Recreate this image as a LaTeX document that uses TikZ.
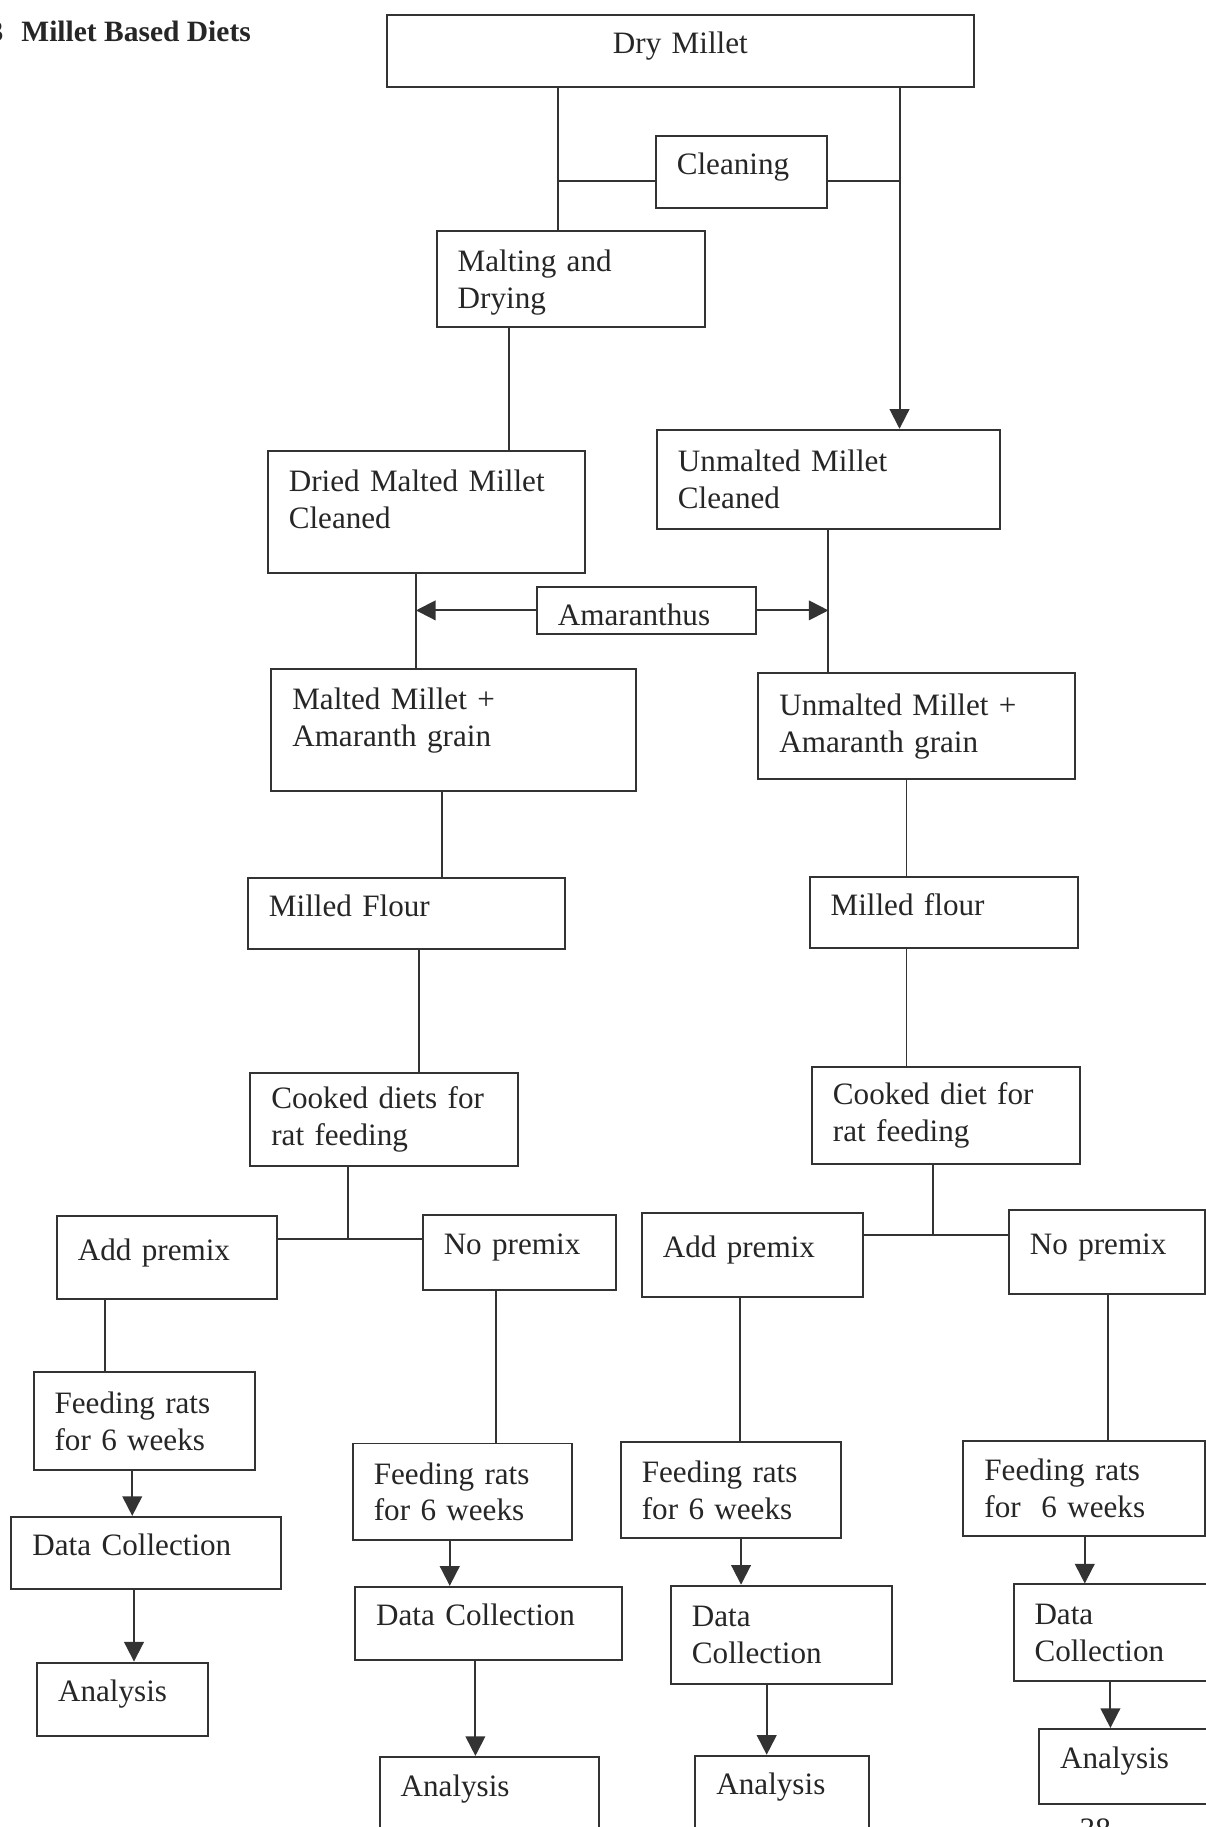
\documentclass[tikz,border=0pt]{standalone}
\usepackage{fontspec}
\setmainfont{Liberation Serif}
\usetikzlibrary{arrows.meta, positioning, calc}
\definecolor{boxborder}{HTML}{333333}
\definecolor{textcolor}{HTML}{262626}
\definecolor{pagebg}{HTML}{FFFFFF}
\tikzset{
  stepbox/.style={
    draw=boxborder,
    line width=1.2pt,
    anchor=north west,
    align=left,
    text=textcolor,
    font=\fontsize{19pt}{22.5pt}\selectfont,
    inner xsep=0.45cm,
    inner ysep=2pt
  },
  oneline/.style={
    text height=13pt,
    text depth=10pt
  },
  link/.style={
    draw=boxborder,
    line width=1.2pt
  },
  arrowd/.style={
    -{Triangle[length=12pt, width=12pt]},
    line width=1.2pt,
    color=boxborder
  },
  headtext/.style={
    anchor=base west,
    inner sep=0pt,
    text=textcolor,
    font=\fontsize{18pt}{21pt}\selectfont\bfseries
  }
}

\begin{document}
\begin{tikzpicture}[x=0.025cm, y=-0.025cm]

  \useasboundingbox (0,0) rectangle (1035,1568);
  \fill [pagebg] (0,0) rectangle (1035,1568);
  \clip (0,0) rectangle (1035,1568);

  % ==================== HEADING ====================
  \node (title) [headtext] at (-10,36) {3\hspace{11pt}Millet Based Diets};

  % ==================== PREPARATION ====================
  \node (dry) [stepbox, oneline, align=center, text width=11.7cm, minimum height=1.55cm] at (331,12) {Dry Millet};

  \node (clean) [stepbox, oneline, text width=2.775cm, minimum height=1.55cm] at (562,116) {Cleaning};

  \node (malt) [stepbox, text depth=22.4pt, text width=4.85cm, minimum height=2.075cm] at (374,197) {Malting and\\Drying};

  \node (dmm) [stepbox, text depth=38pt, text width=5.9cm, minimum height=2.625cm] at (229,386) {Dried Malted Millet\\Cleaned};

  \node (umc) [stepbox, text width=6.45cm, minimum height=2.125cm] at (563,368) {Unmalted Millet\\Cleaned};

  \node (amar) [stepbox, text height=18.6pt, text depth=0pt, text width=3.8cm, minimum height=1cm] at (460,503) {Amaranthus};

  \node (mma) [stepbox, text depth=38pt, text width=6.925cm, minimum height=2.625cm] at (232,573) {Malted Millet +\\Amaranth grain};

  \node (uma) [stepbox, text width=5.9cm, minimum height=2.275cm] at (650,577) {Unmalted Millet +\\Amaranth grain};

  \node (mf1) [stepbox, oneline, text width=5.9cm, minimum height=1.525cm] at (212,753) {Milled Flour};

  \node (mf2) [stepbox, oneline, text width=4.85cm, minimum height=1.525cm] at (694,752) {Milled flour};

  \node (cd1) [stepbox, text width=4.85cm, minimum height=2cm] at (214,920) {Cooked diets for\\rat feeding};

  \node (cd2) [stepbox, text width=4.85cm, minimum height=2.075cm] at (696,915) {Cooked diet for\\rat feeding};

  % ==================== FEEDING GROUPS ====================
  \node (ap1) [stepbox, oneline, text width=3.825cm, minimum height=1.775cm] at (48,1043) {Add premix};
  \node (np1) [stepbox, oneline, text width=3.25cm, minimum height=1.6cm] at (362,1042) {No premix};
  \node (ap2) [stepbox, oneline, text width=3.85cm, minimum height=1.8cm] at (550,1040) {Add premix};
  \node (np2) [stepbox, oneline, text width=3.3cm, minimum height=1.8cm] at (865,1038) {No premix};

  \node (fr1) [stepbox, text width=3.85cm, minimum height=2.1cm] at (28,1177) {Feeding rats\\for 6 weeks};
  \node (fr2) [stepbox, text width=3.8cm, minimum height=2.075cm] at (302,1238) {Feeding rats\\for 6 weeks};
  \node (fr3) [stepbox, text width=3.825cm, minimum height=2.05cm] at (532,1237) {Feeding rats\\for 6 weeks};
  \node (fr4) [stepbox, text width=4.275cm, minimum height=2.025cm] at (826,1236) {Feeding rats\\for~~6 weeks};

  \node (dc1) [stepbox, oneline, text width=4.875cm, minimum height=1.55cm] at (9,1301) {Data Collection};
  \node (dc2) [stepbox, oneline, text width=4.825cm, minimum height=1.575cm] at (304,1361) {Data Collection};
  \node (dc3) [stepbox, text width=3.85cm, minimum height=2.1cm] at (575,1360) {Data\\Collection};
  \node (dc4) [stepbox, text width=3.6cm, minimum height=2.075cm] at (869,1359) {Data\\Collection};

  \node (an1) [stepbox, oneline, text width=2.775cm, minimum height=1.575cm] at (31,1426) {Analysis};
  \node (an2) [stepbox, oneline, text width=3.8cm, minimum height=1.6cm] at (325,1507) {Analysis};
  \node (an3) [stepbox, oneline, text width=2.825cm, minimum height=1.55cm] at (596,1506) {Analysis};
  \node (an4) [stepbox, oneline, text width=3.1cm, minimum height=1.6cm] at (891,1483) {Analysis};

  \node (pagenum) [text=textcolor, font=\fontsize{19pt}{22.5pt}\selectfont, anchor=north, inner sep=0pt] at (940,1561) {38};

  % Connector columns
  \coordinate (jl) at (479,155);
  \coordinate (jr) at (772,155);
  \coordinate (cA) at (437,0);
  \coordinate (cB) at (357,0);
  \coordinate (cC) at (711,0);
  \coordinate (cD) at (379,0);
  \coordinate (cE) at (360,0);
  \coordinate (cF) at (778,0);
  \coordinate (j1) at (299,1063);
  \coordinate (j2) at (801,1060);

  % Connectors Preparation
  \draw [link] (dry.south -| jl) -- (malt.north -| jl);
  \draw [link] (jl) -- (clean.west |- jl);
  \draw [link] (clean.east |- jr) -- (jr);
  \draw [arrowd] (dry.south -| jr) -- (umc.north -| jr);
  \draw [link] (malt.south -| cA) -- (dmm.north -| cA);
  \draw [link] (dmm.south -| cB) -- (mma.north -| cB);
  \draw [link] (umc.south -| cC) -- (uma.north -| cC);
  \draw [arrowd] (amar.west) -- (amar.west -| cB);
  \draw [arrowd] (amar.east) -- (amar.east -| cC);
  \draw [link] (mma.south -| cD) -- (mf1.north -| cD);
  \draw [link] (mf1.south -| cE) -- (cd1.north -| cE);
  \draw [link] (uma.south -| cF) -- (mf2.north -| cF);
  \draw [link] (mf2.south -| cF) -- (cd2.north -| cF);

  % Split into premix groups
  \draw [link] (cd1.south -| j1) -- (j1);
  \draw [link] (ap1.east |- j1) -- (np1.west |- j1);
  \draw [link] (cd2.south -| j2) -- (j2);
  \draw [link] (ap2.east |- j2) -- (np2.west |- j2);

  % Connectors Feeding
  \foreach \g/\f/\d/\a/\xa/\xb/\xc in {ap1/fr1/dc1/an1/90.5/113.5/115, np1/fr2/dc2/an2/426/386/408, ap2/fr3/dc3/an3/635/636/658, np2/fr4/dc4/an4/951/931/953}{
    \coordinate (ka) at (\xa,0);
    \coordinate (kb) at (\xb,0);
    \coordinate (kc) at (\xc,0);
    \draw [link] (\g.south -| ka) -- (\f.north -| ka);
    \draw [arrowd] (\f.south -| kb) -- (\d.north -| kb);
    \draw [arrowd] (\d.south -| kc) -- (\a.north -| kc);
  }

\end{tikzpicture}
\end{document}
